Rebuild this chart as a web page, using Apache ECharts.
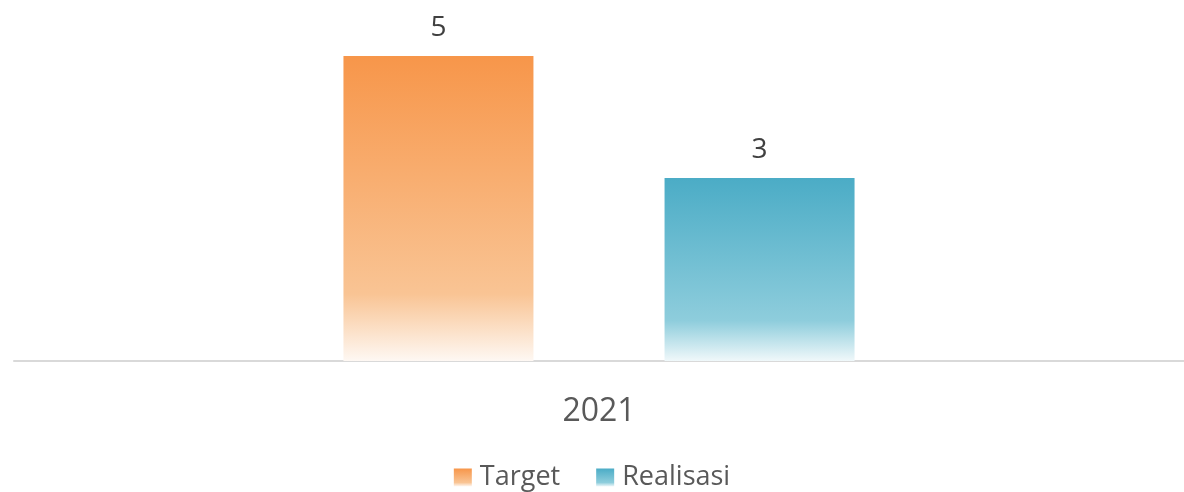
<!DOCTYPE html>
<html>
<head>
<meta charset="utf-8">
<script src="https://cdn.jsdelivr.net/npm/echarts@6/dist/echarts.min.js"></script>
<style>
  html, body { margin: 0; padding: 0; background: #fff; }
  #chart { width: 1184px; height: 492px; }
</style>
</head>
<body>
<div id="chart"></div>
<script>
const categories = ['2021']
const targetValues = [5]
const realisasiValues = [3]

// Excel-like gradient fill: dark top, lighter, then fading to white at the bottom
const fade = (top, mid, bottom) => new echarts.graphic.LinearGradient(0, 0, 0, 1, [
  { offset: 0, color: top },
  { offset: 0.78, color: mid },
  { offset: 1, color: bottom }
])

const chart = echarts.init(document.getElementById('chart'))

const labelStyle = {
  show: true,
  position: 'top',
  distance: 14,
  color: '#404040',
  fontSize: 28,
  fontFamily: 'Open Sans'
}

chart.setOption({
  animation: false,
  textStyle: { fontFamily: 'Open Sans', color: '#595959' },
  grid: { left: 14, right: 0, top: 56, bottom: 131 },
  legend: {
    data: ['Target', 'Realisasi'],
    bottom: -4,
    left: 'center',
    itemWidth: 18,
    itemHeight: 18,
    itemGap: 36,
    icon: 'rect',
    textStyle: { color: '#595959', fontSize: 27, fontFamily: 'Open Sans', padding: [0, 0, 0, 3] }
  },
  xAxis: {
    type: 'category',
    data: categories,
    axisLine: { lineStyle: { color: '#d9d9d9', width: 2 } },
    axisTick: { show: false },
    axisLabel: { color: '#595959', fontSize: 32, margin: 35 }
  },
  yAxis: {
    type: 'value',
    min: 0,
    max: 5,
    show: false,
    splitLine: { show: false }
  },
  series: [
    {
      name: 'Target',
      type: 'bar',
      data: targetValues,
      barWidth: 190,
      barGap: '69%',
      itemStyle: { color: fade('#f7964a', '#f9c494', '#fef8f3') },
      label: labelStyle
    },
    {
      name: 'Realisasi',
      type: 'bar',
      data: realisasiValues,
      barWidth: 190,
      itemStyle: { color: fade('#4bacc6', '#8ecddc', '#f0f8fa') },
      label: labelStyle
    }
  ]
})
</script>
</body>
</html>
